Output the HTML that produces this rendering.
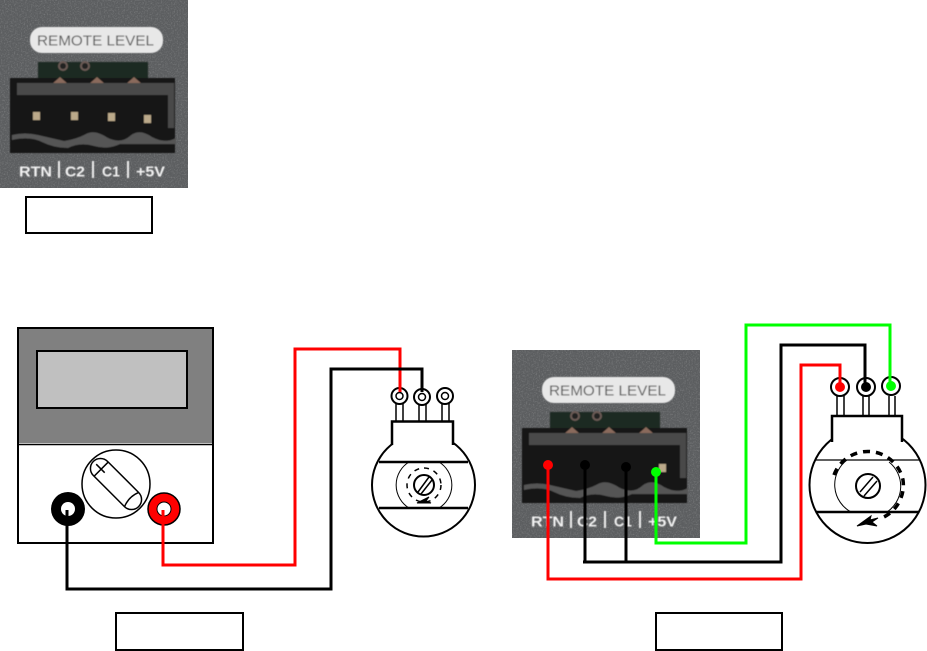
<!DOCTYPE html>
<html><head><meta charset="utf-8"><style>html,body{margin:0;padding:0;background:#fff}svg{display:block}text{font-family:"Liberation Sans",sans-serif}</style></head>
<body>
<svg width="927" height="651" viewBox="0 0 927 651" xmlns="http://www.w3.org/2000/svg">
<defs>
<filter id="n" x="0" y="0" width="100%" height="100%"><feTurbulence type="fractalNoise" baseFrequency="0.7" numOctaves="2" seed="4"/><feColorMatrix values="0 0 0 0 1  0 0 0 0 1  0 0 0 0 1  1.2 0 0 0 -0.55"/></filter>
<filter id="b" x="-5%" y="-5%" width="110%" height="110%"><feGaussianBlur stdDeviation="0.6"/></filter>
</defs>
<!-- Photo 1 -->
<g>
<rect x="0" y="0" width="188" height="188" fill="#5c5e60"/>
<rect x="0" y="0" width="188" height="188" filter="url(#n)" opacity="0.35"/>
<g filter="url(#b)">
<rect x="30" y="27" width="133" height="26" rx="12" fill="#e8e8e8"/>
<text x="37" y="45.500" font-size="14.500" fill="#5a5a5a" textLength="117" lengthAdjust="spacingAndGlyphs">REMOTE LEVEL</text>
<rect x="38" y="62" width="110" height="22" fill="#1e2c22"/>
<circle cx="63" cy="66" r="5" fill="#6a5a55"/><circle cx="63" cy="66" r="3" fill="#222"/>
<circle cx="85" cy="66" r="5" fill="#6a5a55"/><circle cx="85" cy="66" r="3" fill="#222"/>
<path d="M10 78H175V153H10Z" fill="#141414"/>
<path d="M52 84l8-7 8 7zM89 84l8-7 8 7zM126 84l8-7 8 7z" fill="#8a6a5c"/>
<path d="M17 83H174V95H17Z" fill="#484848"/>
<path d="M168 95H174V128H168Z" fill="#4a4a4a"/>
<path d="M12 135q13-3 26 0t26 6q13-2 22-7t22 4q13 6 22-2t22 1q13 7 24 1v6H120q-12 6-26 2t-26 2q-14 0-26-6t-30-2Z" fill="#555"/>
<rect x="33" y="112" width="7" height="8" fill="#bba98a"/>
<rect x="71" y="112" width="7" height="8" fill="#bba98a"/>
<rect x="108" y="113" width="7" height="8" fill="#bba98a"/>
<rect x="144" y="115" width="7" height="8" fill="#bba98a"/>
<g font-size="15" font-weight="700" fill="#f2f2f2">
<text x="19" y="176.500" textLength="33" lengthAdjust="spacingAndGlyphs">RTN</text><text x="65" y="176.500" textLength="20" lengthAdjust="spacingAndGlyphs">C2</text><text x="102" y="176.500" textLength="18" lengthAdjust="spacingAndGlyphs">C1</text><text x="136" y="176.500" textLength="29" lengthAdjust="spacingAndGlyphs">+5V</text>
</g>
<path d="M59 161V178M93 161V178M128 161V178" stroke="#eee" stroke-width="2"/>
</g>
</g>
<rect x="26" y="197" width="126" height="36" fill="#fff" stroke="#000" stroke-width="2"/>

<!-- Meter -->
<rect x="18" y="328" width="195" height="115" fill="#808080"/>
<rect x="18" y="328" width="195" height="215" fill="none" stroke="#000" stroke-width="2"/>
<line x1="18" y1="444.500" x2="213" y2="444.500" stroke="#000" stroke-width="1.500"/>
<rect x="37" y="351" width="150" height="57" fill="#c0c0c0" stroke="#000" stroke-width="2"/>
<circle cx="116" cy="484" r="34" fill="#fff" stroke="#000" stroke-width="1.500"/>
<g transform="rotate(45 116 484)" fill="none" stroke="#000" stroke-width="1.500">
<rect x="84" y="474" width="64" height="20" rx="10"/>
<path d="M95 474V494M138 474Q134 484 138 494M88 484H100"/>
</g>
<circle cx="68" cy="509" r="17" fill="#000"/><circle cx="68" cy="509" r="7" fill="#fff"/>
<circle cx="164" cy="509" r="16" fill="#f00" stroke="#000" stroke-width="1.500"/><circle cx="164" cy="509" r="7" fill="#fff" stroke="#000"/>

<!-- Left pot -->
<g fill="#fff" stroke="#000">
<path d="M396 403V421M403 403V421M419 403V421M426 403V421M442 403V421M449 403V421" stroke-width="1.500"/>
<g stroke-width="2"><circle cx="399.500" cy="396" r="8"/><circle cx="422" cy="397" r="8"/><circle cx="445" cy="396" r="8"/></g>
<g stroke-width="1.500"><circle cx="399.500" cy="396" r="3.500"/><circle cx="422" cy="397" r="3.500"/><circle cx="445" cy="396" r="3.500"/></g>
<circle cx="423.500" cy="485" r="51.500" stroke-width="2"/>
<path d="M392 445V421.500H453V445" stroke-width="2.500"/>
<path d="M393.500 442L393.500 447H451.500V442Z" fill="#fff" stroke="none"/>
<path d="M379 462H468M379 508H468" stroke-width="2.500" fill="none"/>
<path d="M409 462A27 27 0 0 0 409 508M439 462A27 27 0 0 1 439 508" fill="none" stroke-width="1"/>
<circle cx="424" cy="485" r="10" stroke-width="2"/>
<path d="M418 492L429 477M421 494L432 480" stroke-width="1.500" fill="none"/>
<circle cx="424" cy="485" r="17" fill="none" stroke-width="1.500" stroke-dasharray="5 5"/>
<path d="M417 503L429 497L426 501L431 503Z" fill="#000" stroke-width="1"/>
</g>

<!-- Photo 2 -->
<g transform="translate(512 350)">
<rect x="0" y="0" width="188" height="188" fill="#5c5e60"/>
<rect x="0" y="0" width="188" height="188" filter="url(#n)" opacity="0.35"/>
<g filter="url(#b)">
<rect x="30" y="27" width="133" height="26" rx="12" fill="#e8e8e8"/>
<text x="37" y="45.500" font-size="14.500" fill="#5a5a5a" textLength="117" lengthAdjust="spacingAndGlyphs">REMOTE LEVEL</text>
<rect x="38" y="62" width="110" height="22" fill="#1e2c22"/>
<circle cx="63" cy="66" r="5" fill="#6a5a55"/><circle cx="63" cy="66" r="3" fill="#222"/>
<circle cx="85" cy="66" r="5" fill="#6a5a55"/><circle cx="85" cy="66" r="3" fill="#222"/>
<path d="M10 78H175V153H10Z" fill="#141414"/>
<path d="M52 84l8-7 8 7zM89 84l8-7 8 7zM126 84l8-7 8 7z" fill="#8a6a5c"/>
<path d="M17 83H174V95H17Z" fill="#484848"/>
<path d="M168 95H174V128H168Z" fill="#4a4a4a"/>
<path d="M12 135q13-3 26 0t26 6q13-2 22-7t22 4q13 6 22-2t22 1q13 7 24 1v6H120q-12 6-26 2t-26 2q-14 0-26-6t-30-2Z" fill="#555"/>
<rect x="147" y="114" width="7" height="8" fill="#bba98a"/>
<g font-size="15" font-weight="700" fill="#f2f2f2">
<text x="19" y="176.500" textLength="33" lengthAdjust="spacingAndGlyphs">RTN</text><text x="65" y="176.500" textLength="20" lengthAdjust="spacingAndGlyphs">C2</text><text x="102" y="176.500" textLength="18" lengthAdjust="spacingAndGlyphs">C1</text><text x="136" y="176.500" textLength="29" lengthAdjust="spacingAndGlyphs">+5V</text>
</g>
<path d="M59 161V178M93 161V178M128 161V178" stroke="#eee" stroke-width="2"/>
</g>
</g>

<!-- Right pot -->
<g fill="#fff" stroke="#000">
<path d="M837 396V415M844 396V415M863 396V415M869 396V415M889 396V415M895 396V415" stroke-width="1.500"/>
<circle cx="867.500" cy="485" r="58" stroke-width="2"/>
<path d="M832 442V416H902V442" stroke-width="2.500"/>
<path d="M833.500 438V444H900.500V438Z" fill="#fff" stroke="none"/>
<path d="M815 460H919" stroke-width="1.200" fill="none"/>
<path d="M816 512H919" stroke-width="2.500" fill="none"/>
<path d="M847 460A31 31 0 0 0 851 512M889 462A31 31 0 0 1 887 512" fill="none" stroke-width="1"/>
<circle cx="868" cy="486" r="12" stroke-width="2"/>
<path d="M860 492L873 477M864 496L877 481" stroke-width="1.500" fill="none"/>
<path d="M834 475A36 36 0 0 1 903 480A36 36 0 0 1 884 517" fill="none" stroke-width="3.500" stroke-dasharray="7 6"/>
<path d="M857 526L871 516L870 520L878 518L872 522L877 526L866 524Z" fill="#000" stroke-width="1"/>
<g stroke-width="2"><circle cx="840" cy="387" r="9"/><circle cx="866" cy="387" r="9"/><circle cx="891" cy="386" r="9"/></g>
</g>
<rect x="116" y="613" width="127" height="37" fill="#fff" stroke="#000" stroke-width="2"/>
<rect x="656" y="613" width="126" height="37" fill="#fff" stroke="#000" stroke-width="2"/>

<!-- Wires -->
<g fill="none" stroke-width="3" stroke-linejoin="miter">
<path d="M163 510V565H295V349H400V392" stroke="#f00"/>
<path d="M67 510V589H331V369H422V392" stroke="#000"/>
<path d="M548 465V579H801V365H840V388" stroke="#f00"/>
<path d="M585 465V562M626 467V562M583 562H781V345H865V387" stroke="#000"/>
<path d="M656 472V543H746V325H890V386" stroke="#0f0"/>
</g>
<circle cx="548" cy="465" r="5" fill="#f00"/><circle cx="585" cy="465" r="5" fill="#000"/><circle cx="626" cy="467" r="5" fill="#000"/><circle cx="656" cy="472" r="5" fill="#0f0"/>
<circle cx="840" cy="387" r="5" fill="#f00"/><circle cx="866" cy="387" r="5" fill="#000"/><circle cx="891" cy="386" r="5" fill="#0f0"/>
</svg>
</body></html>
